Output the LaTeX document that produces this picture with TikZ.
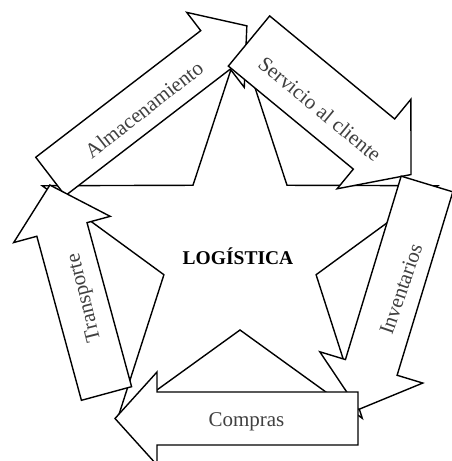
\documentclass[tikz,border=0pt]{standalone}
\usepackage{fontspec}
\setmainfont{Liberation Serif}

% Block arrow drawn in its own frame: tail centre at (#2,#3), axis at angle #4,
% shaft length #5, shaft half-width #6, head half-width #7, head length #8.
\newcommand\blockarrow[8]{%
  \begin{scope}[shift={(#2,#3)}, rotate=#4]
    \draw[arrowbody] (0,-#6) -- (#5,-#6) -- (#5,-#7) -- ({#5+#8},0) coordinate (#1-tip)
      -- (#5,#7) -- (#5,#6) -- (0,#6) -- cycle;
    \coordinate (#1-tail) at (0,0);
  \end{scope}}

\begin{document}
\begin{tikzpicture}[x=1pt, y=1pt,
  outline/.style={draw=black, line width=1.4pt, line join=miter},
  arrowbody/.style={outline, fill=white},
  arrowtext/.style={text=black!75, font=\fontsize{21}{25}\selectfont, inner sep=0pt},
  titletext/.style={text=black, font=\bfseries\fontsize{19.5}{22}\selectfont, inner sep=0pt},
]
\useasboundingbox (0,0) rectangle (451,461);

% five-pointed star in the middle
\draw[outline, fill=white, shift={(240,211)}]
  (90:208) -- (126:80) -- (162:208) -- (198:80) -- (234:208)
  -- (270:80) -- (306:208) -- (342:80) -- (18:208) -- (54:80) -- cycle;
\node[titletext, anchor=base] (logistica) at (238,196) {LOGÍSTICA};

% the cycle of block arrows around the star
\blockarrow{alm}{50.5}{284.5}{37.5}{208}{24.25}{47.25}{39.5}
\node[arrowtext, rotate=38] (alm-text) at (144,351.5) {Almacenamiento};

\blockarrow{ser}{249}{420}{-39.5}{162}{32.5}{58}{48}
\node[arrowtext, rotate=-39.5] (ser-text) at (320,352) {Servicio al cliente};

\blockarrow{inv}{427}{277}{-106.9}{191.7}{27}{53.8}{44}
\node[arrowtext, rotate=71] (inv-text) at (401,172) {Inventarios};

\blockarrow{com}{358}{42.5}{180}{201}{26.5}{46.5}{42}
\node[arrowtext, anchor=base] (com-text) at (246.5,34.3) {Compras};

\blockarrow{tra}{106.5}{67.5}{105.2}{170}{26}{50}{46}
\node[arrowtext, rotate=104] (tra-text) at (85,163.5) {Transporte};
\end{tikzpicture}
\end{document}
